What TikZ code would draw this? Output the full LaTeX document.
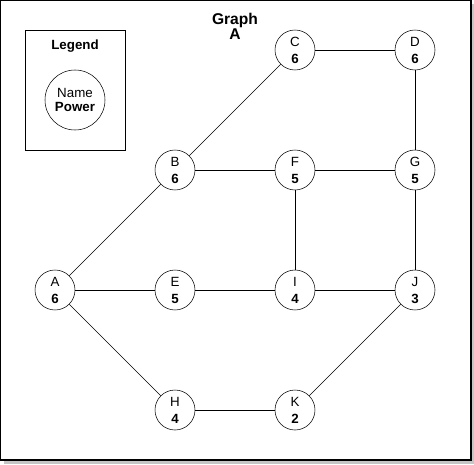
\documentclass[tikz,border=0pt]{standalone}
\usepackage{fontspec}
\setmainfont{Liberation Sans}
\usetikzlibrary{positioning}
\tikzset{
    vertex/.style={circle, draw, minimum size=30pt, inner sep=0pt, align=center,
        font=\fontsize{10}{12.75}\selectfont},
    link/.style={draw, line width=0.5pt}
}

\begin{document}
\begin{tikzpicture}[x=0.75pt, y=-0.75pt, node distance=90pt]
\useasboundingbox (0,0) rectangle (474,464);
\fill[gray!45] (4,4) rectangle (474,464);
\draw[fill=white, line width=0.9pt] (0.5,0.5) rectangle (471,460);
\node(T) [align=center, font=\fontsize{11.7}{11.5}\selectfont\bfseries] at (235,26.5) {Graph\\A};
% legend
\draw (25,30) rectangle (125,150);
\node(L)  [font=\fontsize{10}{11}\selectfont\bfseries] at (75,46) {Legend};
\node(LP) [vertex, minimum size=45pt, font=\fontsize{10}{10}\selectfont] at (75,100) {Name\\\textbf{Power}};
% vertices
\node(C) [vertex] at (295,50) {C\\\textbf{6}};
\node(D) [vertex, right of=C] {D\\\textbf{6}};
\node(F) [vertex, below of=C] {F\\\textbf{5}};
\node(B) [vertex, left of=F]  {B\\\textbf{6}};
\node(G) [vertex, right of=F] {G\\\textbf{5}};
\node(I) [vertex, below of=F] {I\\\textbf{4}};
\node(E) [vertex, left of=I]  {E\\\textbf{5}};
\node(A) [vertex, left of=E]  {A\\\textbf{6}};
\node(J) [vertex, right of=I] {J\\\textbf{3}};
\node(K) [vertex, below of=I] {K\\\textbf{2}};
\node(H) [vertex, left of=K]  {H\\\textbf{4}};
% edges
\draw[link] (C) -- (D);
\draw[link] (C) -- (B);
\draw[link] (D) -- (G);
\draw[link] (B) -- (F);
\draw[link] (F) -- (G);
\draw[link] (B) -- (A);
\draw[link] (F) -- (I);
\draw[link] (G) -- (J);
\draw[link] (A) -- (E);
\draw[link] (E) -- (I);
\draw[link] (I) -- (J);
\draw[link] (A) -- (H);
\draw[link] (H) -- (K);
\draw[link] (K) -- (J);
\end{tikzpicture}
\end{document}
